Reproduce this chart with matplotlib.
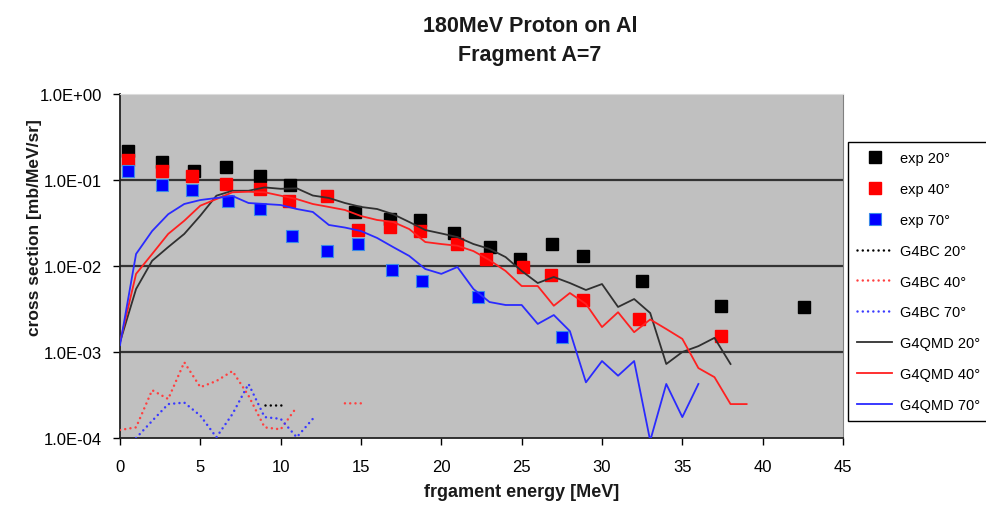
import numpy as np
import matplotlib
matplotlib.use("Agg")
import matplotlib.pyplot as plt

plt.rcParams['font.family'] = ['Liberation Sans', 'DejaVu Sans']

# ---------------- data ----------------
exp20_e = [0.5, 2.6, 4.6, 6.6, 8.7, 10.6, 14.6, 16.8, 18.7, 20.8, 23.0, 24.9, 26.9, 28.8, 32.5, 37.4, 42.6]
exp20_y = [0.219, 0.163, 0.128, 0.141, 0.112, 0.0875, 0.042, 0.0352, 0.0343, 0.0239, 0.0166, 0.0122, 0.0178, 0.0131, 0.00664, 0.0034, 0.00336]

exp40_e = [0.5, 2.6, 4.5, 6.6, 8.7, 10.5, 12.9, 14.8, 16.8, 18.7, 21.0, 22.8, 25.1, 26.8, 28.8, 32.3, 37.4]
exp40_y = [0.172, 0.126, 0.112, 0.0898, 0.0786, 0.0574, 0.0657, 0.0264, 0.0282, 0.0257, 0.018, 0.0121, 0.0098, 0.00786, 0.00402, 0.00242, 0.00152]

exp70_e = [0.5, 2.6, 4.5, 6.7, 8.7, 10.7, 12.9, 14.8, 16.9, 18.8, 22.3, 27.5]
exp70_y = [0.126, 0.0882, 0.0771, 0.0574, 0.046, 0.0226, 0.0151, 0.018, 0.00898, 0.00664, 0.00433, 0.00151]

bc20_e = [9, 10]
bc20_y = [0.000242, 0.000242]

bc40_e = [0, 1, 2, 3, 4, 5, 6, 7, 8, 9, 10, 11, 12, 13, 14, 15]
bc40_y = [0.000124, 0.000133, 0.00036, 0.000284, 0.00076, 0.00039, 0.00046, 0.0006, 0.00031,
          0.000133, 0.000126, 0.000229, np.nan, np.nan, 0.000253, 0.000253]

bc70_e = [1, 2, 3, 4, 5, 6, 7, 8, 9, 10, 11, 12]
bc70_y = [0.0001, 0.000158, 0.000248, 0.000258, 0.000182, 0.000102, 0.00019, 0.000425,
          0.000175, 0.000167, 0.000102, 0.000167]

qmd20_e = list(range(0, 39))
qmd20_y = [0.0013, 0.0054, 0.0115, 0.0166, 0.0236, 0.0385, 0.0657, 0.075, 0.075, 0.082,
           0.079, 0.080, 0.066, 0.0618, 0.054, 0.0486, 0.046, 0.040, 0.0325, 0.0262,
           0.0239, 0.0217, 0.018, 0.0158, 0.0127, 0.00875, 0.00634, 0.00745, 0.00634, 0.00526,
           0.00617, 0.00334, 0.00413, 0.00284, 0.000725, 0.001, 0.00117, 0.00146, 0.000725]

qmd40_e = list(range(0, 40))
qmd40_y = [0.0013, 0.0081, 0.0138, 0.0236, 0.0336, 0.0503, 0.060, 0.072, 0.073, 0.072,
           0.0657, 0.060, 0.0526, 0.0486, 0.0448, 0.0381, 0.0343, 0.0325, 0.0269, 0.019,
           0.018, 0.0172, 0.0149, 0.0117, 0.00875, 0.00585, 0.00585, 0.00345, 0.00485, 0.00362,
           0.00195, 0.0029, 0.0017, 0.00239, 0.00185, 0.00142, 0.00065, 0.00051, 0.000248, 0.000248]

qmd70_e = list(range(0, 37))
qmd70_y = [0.0012, 0.0138, 0.0255, 0.040, 0.0526, 0.0585, 0.0618, 0.0652, 0.054, 0.0526,
           0.0512, 0.046, 0.0425, 0.030, 0.028, 0.0255, 0.0212, 0.0166, 0.0131, 0.00923,
           0.0081, 0.00973, 0.0054, 0.00381, 0.00352, 0.00352, 0.00212, 0.00269, 0.00175, 0.000444,
           0.000785, 0.00053, 0.000785, 0.000093, 0.000425, 0.000175, 0.000425]

y_ticks = [1e-4, 1e-3, 1e-2, 1e-1, 1e0]
y_ticklabels = ["1.0E-04", "1.0E-03", "1.0E-02", "1.0E-01", "1.0E+00"]
x_ticks = [0, 5, 10, 15, 20, 25, 30, 35, 40, 45]

# ---------------- figure ----------------
W, H = 987, 506
fig = plt.figure(figsize=(W / 100, H / 100), dpi=100)
ax = fig.add_axes([120 / W, 1 - 439 / H, (843 - 120) / W, (439 - 95) / H])
ax.set_facecolor('#c0c0c0')
ax.set_yscale('log')
ax.set_xlim(0, 45)
ax.set_ylim(1e-4, 1e0)

for g in [1e-3, 1e-2, 1e-1]:
    ax.axhline(g, color='#333333', lw=1.6, zorder=1)

ms = 8.6
ax.plot(exp20_e, exp20_y, 's', color='black', ms=ms, mec='black', label='exp 20°', zorder=3)
ax.plot(exp40_e, exp40_y, 's', color='#ff0000', ms=ms, mec='#ff0000', label='exp 40°', zorder=3)
ax.plot(exp70_e, exp70_y, 's', color='#0000ff', ms=ms, mec='#3b8be8', mew=0.8, label='exp 70°', zorder=3)

dot = (0, (0.01, 2.1))
ax.plot(bc20_e, bc20_y, color='black', lw=1.8, ls=dot, dash_capstyle='round', label='G4BC 20°', zorder=4)
ax.plot(bc40_e, bc40_y, color='#ff4040', lw=1.8, ls=dot, dash_capstyle='round', label='G4BC 40°', zorder=4)
ax.plot(bc70_e, bc70_y, color='#3a3aff', lw=1.8, ls=dot, dash_capstyle='round', label='G4BC 70°', zorder=4)

ax.plot(qmd20_e, qmd20_y, color='#303030', lw=1.3, label='G4QMD 20°', zorder=4)
ax.plot(qmd40_e, qmd40_y, color='#ff2020', lw=1.3, label='G4QMD 40°', zorder=4)
ax.plot(qmd70_e, qmd70_y, color='#2a2aff', lw=1.3, label='G4QMD 70°', zorder=4)

ax.set_yticks(y_ticks)
ax.set_yticklabels(y_ticklabels)
ax.yaxis.set_minor_locator(matplotlib.ticker.NullLocator())
ax.set_xticks(x_ticks)
ax.set_xticklabels([str(t) for t in x_ticks])
ax.tick_params(axis='both', direction='out', length=5, width=1, labelsize=12, colors='black')
ax.tick_params(axis='y', pad=8)
ax.tick_params(axis='x', pad=10)

ax.spines['left'].set_color('#222222')
ax.spines['left'].set_linewidth(1.3)
ax.spines['bottom'].set_color('#222222')
ax.spines['bottom'].set_linewidth(1.3)
ax.spines['top'].set_color('#dcdcdc')
ax.spines['right'].set_color('#808080')

# titles / labels
fig.text(530 / W, 1 - 27 / H, '180MeV Proton on Al', ha='center', va='center',
         fontsize=15.5, fontweight='bold', color='#1a1a1a')
fig.text(530 / W, 1 - 55 / H, 'Fragment A=7', ha='center', va='center',
         fontsize=15.5, fontweight='bold', color='#1a1a1a')
fig.text(522 / W, 1 - 493 / H, 'frgament energy [MeV]', ha='center', va='center',
         fontsize=13, fontweight='bold', color='#1a1a1a')
fig.text(35 / W, 1 - 228 / H, 'cross section [mb/MeV/sr]', ha='center', va='center',
         rotation=90, fontsize=12.5, fontweight='bold', color='#1a1a1a')

leg = fig.legend(loc='upper left', bbox_to_anchor=(848 / W, 1 - 143 / H),
                 bbox_transform=fig.transFigure, fontsize=10.5, frameon=True,
                 fancybox=False, edgecolor='black', facecolor='white', framealpha=1,
                 labelspacing=1.15, handlelength=2.4, handletextpad=0.55,
                 borderpad=0.65, borderaxespad=0)
leg.get_frame().set_linewidth(1.0)

fig.savefig('out.png', dpi=100)
